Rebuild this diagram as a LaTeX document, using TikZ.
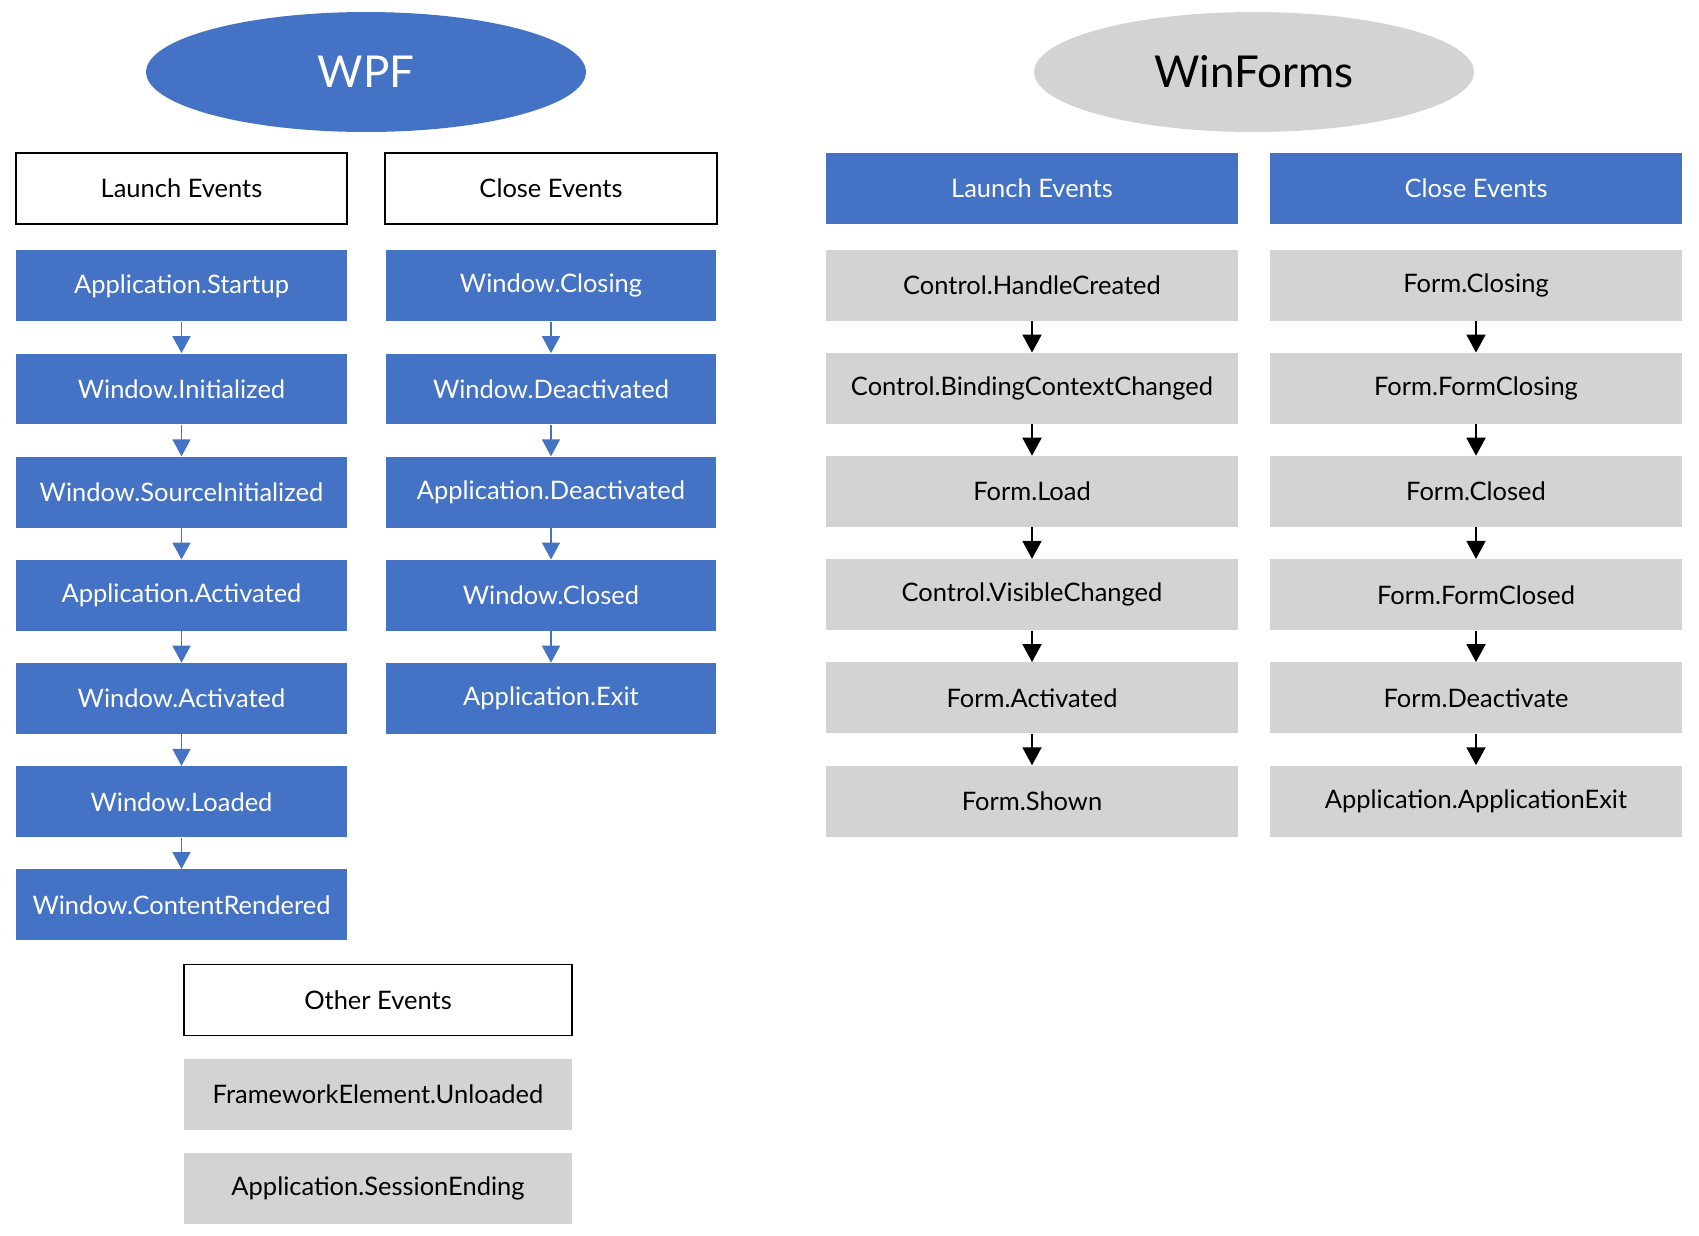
\documentclass[tikz,border=0pt]{standalone}
\usepackage{fontspec}
\setmainfont{Lato}
\usetikzlibrary{arrows.meta}
\usetikzlibrary{positioning}
\usetikzlibrary{shapes.geometric}

\definecolor{wpfblue}{HTML}{4472C4}
\definecolor{formgray}{HTML}{D3D3D3}

\tikzset{
    evtbox/.style={
        rectangle, inner sep=0pt,
        minimum height=1.42cm,
        font=\fontsize{14.5}{17}\selectfont,
    },
    wpfbox/.style={evtbox, minimum width=6.62cm, fill=wpfblue, text=white},
    wfbox/.style={evtbox, minimum width=8.24cm, fill=formgray, text=black},
    otherbox/.style={evtbox, minimum width=7.76cm, fill=formgray, text=black},
    headbox/.style={evtbox, draw=black, line width=1.1pt, fill=white, text=black},
    titlebubble/.style={
        ellipse, inner sep=0pt,
        minimum width=8.8cm, minimum height=2.4cm,
        font=\fontsize{25}{30}\selectfont,
    },
    wpfarrow/.style={draw=wpfblue, line width=0.9pt, -{Triangle[length=0.34cm, width=0.36cm]}},
    wfarrow/.style={draw=black, line width=1.1pt, -{Triangle[length=0.36cm, width=0.38cm]}},
}

\begin{document}
\begin{tikzpicture}[x=0.02cm, y=-0.02cm, node distance=0.63cm]
    \useasboundingbox (0,0) rectangle (1699,1235);

    \node (wpf) at(366,72) [titlebubble, fill=wpfblue, text=white] {WPF};
    \node (winforms) at(1254,72) [titlebubble, fill=formgray, text=black] {WinForms};

    % WPF launch events
    \node (wpfLaunch) at(181.5,188.5) [headbox, minimum width=6.62cm] {Launch Events};
    \node (startup) [wpfbox, below=0.5cm of wpfLaunch] {Application.Startup};
    \node (initialized) [wpfbox, below=of startup] {Window.Initialized};
    \node (sourceInit) [wpfbox, below=of initialized] {Window.SourceInitialized};
    \node (appActivated) [wpfbox, below=of sourceInit] {Application.Activated};
    \node (winActivated) [wpfbox, below=of appActivated] {Window.Activated};
    \node (loaded) [wpfbox, below=of winActivated] {Window.Loaded};
    \node (rendered) [wpfbox, below=of loaded] {Window.ContentRendered};

    % WPF close events
    \node (wpfClose) at(551,188.5) [headbox, minimum width=6.64cm] {Close Events};
    \node (closing) [wpfbox, below=0.5cm of wpfClose] {Window.Closing};
    \node (deactivated) [wpfbox, below=of closing] {Window.Deactivated};
    \node (appDeactivated) [wpfbox, below=of deactivated] {Application.Deactivated};
    \node (closed) [wpfbox, below=of appDeactivated] {Window.Closed};
    \node (exit) [wpfbox, below=of closed] {Application.Exit};

    % WPF other events
    \node (wpfOther) at(378,1000) [headbox, minimum width=7.76cm] {Other Events};
    \node (unloaded) [otherbox, below=0.44cm of wpfOther] {FrameworkElement.Unloaded};
    \node (sessionEnding) [otherbox, below=0.44cm of unloaded] {Application.SessionEnding};

    % WinForms launch events
    \node (wfLaunch) at(1032,188.5) [evtbox, minimum width=8.24cm, fill=wpfblue, text=white] {Launch Events};
    \node (handleCreated) [wfbox, below=0.5cm of wfLaunch] {Control.HandleCreated};
    \node (bindingChanged) [wfbox, below=of handleCreated] {Control.BindingContextChanged};
    \node (formLoad) [wfbox, below=of bindingChanged] {Form.Load};
    \node (visibleChanged) [wfbox, below=of formLoad] {Control.VisibleChanged};
    \node (formActivated) [wfbox, below=of visibleChanged] {Form.Activated};
    \node (formShown) [wfbox, below=of formActivated] {Form.Shown};

    % WinForms close events
    \node (wfClose) at(1476,188.5) [evtbox, minimum width=8.24cm, fill=wpfblue, text=white] {Close Events};
    \node (formClosing) [wfbox, below=0.5cm of wfClose] {Form.Closing};
    \node (formFormClosing) [wfbox, below=of formClosing] {Form.FormClosing};
    \node (formClosed) [wfbox, below=of formFormClosing] {Form.Closed};
    \node (formFormClosed) [wfbox, below=of formClosed] {Form.FormClosed};
    \node (formDeactivate) [wfbox, below=of formFormClosed] {Form.Deactivate};
    \node (appExit) [wfbox, below=of formDeactivate] {Application.ApplicationExit};

    \foreach \from/\to in {startup/initialized, initialized/sourceInit, sourceInit/appActivated,
            appActivated/winActivated, winActivated/loaded, loaded/rendered,
            closing/deactivated, deactivated/appDeactivated, appDeactivated/closed, closed/exit}
        \draw[wpfarrow] (\from) -- (\to);

    \foreach \from/\to in {handleCreated/bindingChanged, bindingChanged/formLoad, formLoad/visibleChanged,
            visibleChanged/formActivated, formActivated/formShown,
            formClosing/formFormClosing, formFormClosing/formClosed, formClosed/formFormClosed,
            formFormClosed/formDeactivate, formDeactivate/appExit}
        \draw[wfarrow] (\from) -- (\to);
\end{tikzpicture}
\end{document}
